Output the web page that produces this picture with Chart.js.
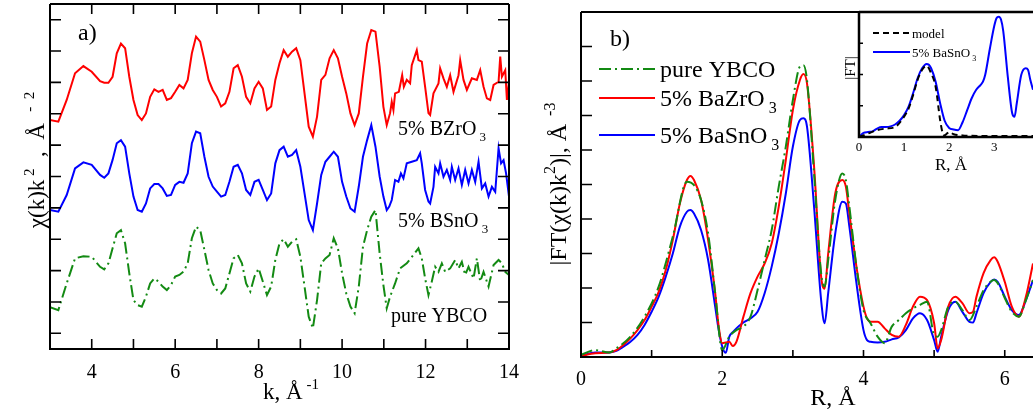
<!DOCTYPE html>
<html lang="en">
<head>
<meta charset="UTF-8">
<title>EXAFS chi(k) and FT</title>
<script src="https://cdn.jsdelivr.net/npm/chart.js"></script>
<style>
    body { margin: 0; background: #fff; }
    canvas { position: absolute; top: 0; }
    #chartA { left: 0; }
    #chartB { left: 520px; }
    #chartC { left: 830px; }
</style>
</head>
<body>
<canvas id="chartA" width="520" height="416"></canvas>
<canvas id="chartB" width="513" height="416"></canvas>
<canvas id="chartC" width="203" height="185"></canvas>
<script>
// ---- panel a: chi(k)k^2, curves shifted vertically (arbitrary units)
// common k grid up to 10.9, then each curve has its own noisy tail
const kA = [3.0, 3.2, 3.4, 3.6, 3.8, 4.0,
    4.2, 4.3, 4.4, 4.5, 4.6, 4.7, 4.8, 4.9, 5.0, 5.1, 5.2, 5.3, 5.4, 5.5, 5.6, 5.7, 5.8, 5.9,
    6.0, 6.1, 6.2, 6.3, 6.4, 6.5, 6.6, 6.7, 6.8, 6.9, 7.0, 7.1, 7.2, 7.3, 7.4, 7.5, 7.6, 7.7, 7.8, 7.9,
    8.0, 8.1, 8.2, 8.3, 8.4, 8.5, 8.6, 8.7, 8.8, 8.9, 9.0, 9.1, 9.2, 9.3, 9.4, 9.5, 9.6, 9.7, 9.8, 9.9,
    10.0, 10.1, 10.2, 10.3, 10.4, 10.5, 10.6, 10.7, 10.8, 10.9];
const bzrA = [7.30, 7.25, 7.94, 8.79, 9.02, 8.84,
    8.54, 8.49, 8.49, 8.68, 9.43, 9.74, 9.59, 8.68, 7.94, 7.46, 7.30, 7.51, 8.04, 8.28, 8.20, 8.26, 7.94, 8.00,
    8.20, 8.42, 8.31, 8.58, 9.43, 9.96, 9.80, 9.21, 8.58, 8.26, 8.04, 7.73, 7.83, 8.20, 8.95, 9.05, 8.68, 8.04, 7.83, 8.31,
    8.52, 8.31, 7.62, 7.73, 8.58, 9.11, 9.53, 9.32, 9.48, 9.59, 9.21, 8.15, 7.09, 6.77, 7.41, 8.58, 8.74, 9.27, 9.53, 9.27,
    8.68, 8.15, 7.51, 7.14, 7.51, 8.68, 9.74, 10.17, 10.12, 9.00];
const bsnA = [4.43, 4.38, 4.91, 5.76, 5.95, 5.87,
    5.55, 5.46, 5.60, 6.03, 6.56, 6.66, 6.45, 5.60, 4.86, 4.43, 4.38, 4.64, 5.12, 5.26, 5.26, 5.12, 4.88, 4.91,
    5.23, 5.33, 5.30, 5.60, 6.56, 6.93, 6.88, 6.13, 5.49, 5.18, 5.02, 4.86, 4.91, 5.33, 5.81, 5.87, 5.60, 5.07, 4.91, 5.33,
    5.39, 5.07, 4.75, 4.96, 5.92, 6.34, 6.45, 6.13, 6.19, 6.34, 5.81, 4.96, 4.11, 3.79, 4.64, 5.55, 5.97, 6.13, 6.29, 6.13,
    5.33, 4.86, 4.48, 4.38, 5.18, 6.13, 6.66, 7.14, 6.45, 5.50];
const ybcoA = [1.33, 1.24, 2.09, 2.89, 2.96, 2.94,
    2.62, 2.54, 2.73, 3.21, 3.69, 3.79, 3.37, 2.41, 1.56, 1.40, 1.35, 1.67, 2.09, 2.25, 2.15, 1.99, 1.88, 2.04,
    2.31, 2.36, 2.47, 2.73, 3.53, 3.90, 3.79, 3.16, 2.52, 2.09, 1.88, 1.77, 1.93, 2.41, 2.89, 3.00, 2.73, 2.09, 1.83, 2.31,
    2.57, 2.15, 1.72, 1.99, 2.84, 3.37, 3.50, 3.26, 3.42, 3.50, 2.94, 1.99, 1.03, 0.66, 1.56, 2.73, 2.89, 3.00, 3.53, 3.21,
    2.41, 1.77, 1.35, 1.14, 1.99, 3.26, 3.79, 4.22, 4.43, 3.05];

const kTailBzr = [10.99, 11.07, 11.15, 11.19, 11.23, 11.27, 11.36, 11.44, 11.48, 11.55, 11.63, 11.67, 11.79, 11.83,
    11.91, 11.99, 12.07, 12.11, 12.19, 12.31, 12.35, 12.43, 12.51, 12.59, 12.67, 12.79, 12.83, 12.91, 12.99, 13.11,
    13.23, 13.31, 13.39, 13.47, 13.55, 13.63, 13.75, 13.79, 13.83, 13.91, 13.95, 14.0];
const bzrTail = [7.72, 7.14, 7.52, 7.88, 7.62, 8.15, 8.20, 8.73, 8.36, 8.58, 8.47, 9.05, 9.53, 9.21,
    9.16, 8.36, 7.52, 7.46, 8.15, 8.47, 8.95, 8.63, 8.36, 8.73, 8.20, 8.73, 9.21, 8.58, 8.26, 8.63,
    8.58, 8.89, 8.36, 7.99, 7.94, 8.42, 8.52, 9.32, 8.68, 8.89, 7.94, 8.52];
const kTailBsn = [10.99, 11.07, 11.13, 11.19, 11.27, 11.35, 11.41, 11.47, 11.55, 11.67, 11.79, 11.87, 11.91, 11.99,
    12.07, 12.11, 12.19, 12.23, 12.31, 12.35, 12.43, 12.51, 12.59, 12.63, 12.71, 12.79, 12.87, 12.95, 13.03, 13.11,
    13.19, 13.27, 13.35, 13.43, 13.51, 13.59, 13.67, 13.75, 13.81, 13.87, 13.93, 14.0];
const bsnTail = [4.86, 4.43, 4.54, 4.75, 5.39, 5.33, 5.60, 5.44, 5.92, 5.97, 6.02, 6.24, 5.92, 5.07,
    4.70, 4.64, 5.17, 5.81, 5.60, 5.92, 5.49, 5.71, 5.39, 5.81, 5.39, 5.76, 5.23, 5.71, 5.28, 5.71,
    5.33, 5.97, 5.12, 5.28, 4.86, 5.17, 5.01, 6.40, 5.92, 6.02, 5.60, 4.86];
const kTailYbco = [10.99, 11.07, 11.15, 11.27, 11.39, 11.55, 11.71, 11.83, 11.91, 11.99, 12.07, 12.15, 12.23, 12.31,
    12.39, 12.47, 12.59, 12.71, 12.79, 12.87, 12.95, 13.03, 13.15, 13.23, 13.31, 13.39, 13.51, 13.63, 13.75, 13.83,
    13.91, 14.0];
const ybcoTail = [2.04, 1.30, 1.67, 2.09, 2.57, 2.73, 3.00, 3.21, 2.89, 2.25, 1.72, 2.15, 2.62, 2.46,
    2.73, 2.46, 2.57, 2.84, 2.57, 2.78, 2.36, 2.62, 2.25, 2.89, 2.15, 2.46, 1.99, 2.68, 2.84, 2.73,
    2.46, 2.36];
const xLabelsA = [4, 6, 8, 10, 12, 14];
const xTicksA = [4, 5, 6, 7, 8, 9, 10, 11, 12, 13];
const yTicksA = [0.5, 1.5, 2.5, 3.5, 4.5, 5.5, 6.5, 7.5, 8.5, 9.5, 10.5];

// ---- panel b: |FT|
const rB = [0, 0.2, 0.4, 0.5, 0.6, 0.7, 0.8, 0.9, 1.0, 1.1, 1.2, 1.3, 1.4, 1.5, 1.55, 1.6, 1.7, 1.8, 1.9, 1.95,
    2.0, 2.05, 2.1, 2.15, 2.2, 2.3, 2.4, 2.5, 2.6, 2.7, 2.8, 2.9, 3.0, 3.1, 3.15, 3.2, 3.3, 3.4, 3.45, 3.5,
    3.6, 3.7, 3.75, 3.8, 3.9, 4.0, 4.05, 4.1, 4.2, 4.3, 4.4, 4.5, 4.6, 4.7, 4.8, 4.9, 5.0, 5.05, 5.1, 5.2,
    5.3, 5.4, 5.5, 5.55, 5.6, 5.7, 5.8, 5.85, 5.9, 6.0, 6.1, 6.2, 6.3, 6.4];
const bzrB = [0.03, 0.11, 0.13, 0.20, 0.35, 0.54, 0.78, 1.07, 1.46, 1.89, 2.52, 3.39, 4.45, 5.13, 5.25, 5.13, 4.55, 3.39, 1.85, 0.88,
    0.40, 0.42, 0.44, 0.32, 0.44, 1.17, 1.85, 2.33, 2.71, 3.29, 4.36, 5.71, 7.16, 8.03, 8.20, 7.93, 5.52, 2.33, 1.98, 3.00,
    4.74, 5.13, 4.94, 4.16, 2.62, 1.46, 1.12, 1.02, 1.02, 0.83, 0.64, 0.59, 0.93, 1.46, 1.75, 1.65, 0.98, 0.25, 0.49, 1.46,
    1.75, 1.56, 1.27, 1.31, 1.75, 2.43, 2.81, 2.89, 2.76, 2.18, 1.46, 1.17, 1.75, 2.71];
const bsnB = [0.03, 0.13, 0.13, 0.18, 0.30, 0.44, 0.64, 0.93, 1.31, 1.75, 2.33, 3.00, 3.78, 4.21, 4.26, 4.16, 3.68, 2.81, 1.46, 0.78,
    0.30, 0.12, 0.59, 0.72, 0.83, 1.00, 1.12, 1.31, 1.85, 2.62, 3.58, 4.74, 6.10, 6.87, 6.92, 6.68, 4.36, 1.65, 0.98, 1.85,
    3.58, 4.50, 4.45, 3.78, 2.14, 0.78, 0.49, 0.44, 0.42, 0.44, 0.51, 0.57, 0.78, 1.12, 1.27, 1.07, 0.49, 0.15, 0.59, 1.36,
    1.60, 1.31, 1.02, 1.00, 1.27, 1.85, 2.18, 2.25, 2.18, 1.75, 1.36, 1.22, 1.65, 2.23];
const rBY = [0, 0.2, 0.4, 0.5, 0.7, 0.9, 1.1, 1.3, 1.5, 1.6, 1.7, 1.8, 1.9, 2.0, 2.1, 2.2, 2.3, 2.4, 2.5, 2.6,
    2.7, 2.8, 2.9, 3.0, 3.1, 3.15, 3.2, 3.3, 3.4, 3.45, 3.5, 3.6, 3.7, 3.75, 3.8, 3.9, 4.0, 4.1, 4.2, 4.3,
    4.4, 4.5, 4.6, 4.7, 4.8, 4.9, 5.0, 5.05, 5.1, 5.2, 5.3, 5.4, 5.5, 5.6, 5.7, 5.8, 5.85, 5.9, 6.0, 6.1,
    6.2, 6.3, 6.4];
const ybcoB = [0.06, 0.20, 0.13, 0.25, 0.59, 1.17, 2.04, 3.49, 5.08, 4.98, 4.55, 3.58, 1.85, 0.20, 0.59, 0.78, 0.88, 1.17, 1.94, 2.81,
    3.68, 4.94, 6.10, 7.45, 8.42, 8.46, 8.03, 5.32, 2.43, 2.04, 2.81, 4.55, 5.32, 5.13, 4.36, 2.62, 1.36, 0.98, 0.59, 0.40,
    0.88, 1.07, 1.27, 1.41, 1.51, 1.60, 0.64, 0.59, 0.78, 1.46, 1.60, 1.36, 1.07, 1.46, 1.94, 2.18, 2.23, 2.14, 1.71, 1.31,
    1.17, 1.65, 2.23];
const xLabelsB = [0, 2, 4, 6];
const xTicksB = [1, 2, 3, 4, 5, 6];
const yTicksB = [1, 2, 3, 4, 5, 6, 7, 8, 9];

// ---- inset: model vs 5% BaSnO3
const rIn = [0, 0.1, 0.2, 0.3, 0.4, 0.5, 0.6, 0.7, 0.8, 0.9, 1.0, 1.1, 1.2, 1.3, 1.4, 1.5, 1.55, 1.6, 1.7, 1.8,
    1.9, 2.0, 2.1, 2.2, 2.3, 2.4, 2.5, 2.6, 2.7, 2.75, 2.8, 2.9, 3.0, 3.05, 3.1, 3.15, 3.2, 3.3, 3.4, 3.45,
    3.5, 3.6, 3.7, 3.75, 3.8, 3.86];
const bsnIn = [0, 0.13, 0.16, 0.18, 0.27, 0.32, 0.32, 0.34, 0.40, 0.52, 0.70, 0.97, 1.40, 1.88, 2.20, 2.34, 2.31, 2.20, 1.77, 1.08,
    0.52, 0.29, 0.24, 0.22, 0.48, 0.86, 1.24, 1.51, 1.67, 1.77, 1.99, 2.80, 3.55, 3.80, 3.85, 3.76, 3.39, 1.94, 0.75, 0.65,
    1.08, 1.99, 2.20, 2.15, 1.83, 1.51];
const rModel = [0, 0.2, 0.4, 0.6, 0.8, 1.0, 1.1, 1.2, 1.3, 1.4, 1.5, 1.6, 1.7, 1.8, 1.85, 1.9, 1.95, 2.0, 2.1, 2.3, 2.5, 3.0, 3.86];
const modelIn = [0, 0.11, 0.22, 0.27, 0.32, 0.65, 0.91, 1.34, 1.83, 2.15, 2.28, 2.04, 1.61, 0.54, 0.16, 0.05, 0.11, 0.16, 0.09, 0.05, 0.04, 0.03, 0.03];
const xLabelsIn = [0, 1, 2, 3];
const yTicksIn = [1, 2, 3];

const SERIF = '"Liberation Serif", "DejaVu Serif", serif';
const RED = '#ff0000', BLUE = '#0000ff', GREEN = '#138a13';
const DASHDOT = [12, 4, 2, 4];

Chart.defaults.color = '#000';
Chart.defaults.font.family = SERIF;

function pts(xs, ys) {
    return ys.map((v, i) => ({ x: xs[i], y: v }));
}

// text with super/subscripts, optionally rotated
function rich(ctx, parts, x, y, size, align, angle) {
    const small = Math.round(size * 0.65);
    ctx.save();
    ctx.translate(x, y);
    if (angle) ctx.rotate(angle);
    ctx.fillStyle = '#000';
    ctx.textAlign = 'left';
    ctx.textBaseline = 'alphabetic';
    let w = 0;
    parts.forEach(([t, k]) => {
        ctx.font = (k === 'n' ? size : small) + 'px ' + SERIF;
        w += ctx.measureText(t).width;
    });
    let cx = align === 'center' ? -w / 2 : 0;
    parts.forEach(([t, k]) => {
        ctx.font = (k === 'n' ? size : small) + 'px ' + SERIF;
        const dy = k === 'sup' ? -size * 0.45 : (k === 'sub' ? size * 0.28 : 0);
        ctx.fillText(t, cx, dy);
        cx += ctx.measureText(t).width;
    });
    ctx.restore();
}

function legendLine(ctx, x1, x2, y, color, dash, width) {
    ctx.save();
    ctx.strokeStyle = color;
    ctx.lineWidth = width;
    ctx.setLineDash(dash);
    ctx.beginPath();
    ctx.moveTo(x1, y);
    ctx.lineTo(x2, y);
    ctx.stroke();
    ctx.restore();
}

// box + inward tick marks, placed by the chart's scales
function makeFrame(cfg) {
    return {
        id: 'frame',
        beforeDatasetsDraw(chart) {
            if (!cfg.fill) return;
            const a = chart.chartArea;
            chart.ctx.save();
            chart.ctx.fillStyle = '#fff';
            chart.ctx.fillRect(a.left, a.top, a.right - a.left, a.bottom - a.top);
            chart.ctx.restore();
        },
        afterDatasetsDraw(chart) {
            const { ctx, chartArea: a, scales } = chart;
            ctx.save();
            ctx.strokeStyle = '#000';
            ctx.lineWidth = cfg.tickWidth;
            ctx.beginPath();
            cfg.xTicks.forEach(v => {
                const px = scales.x.getPixelForValue(v);
                if (cfg.ticks.includes('bottom')) { ctx.moveTo(px, a.bottom); ctx.lineTo(px, a.bottom - cfg.xLen); }
                if (cfg.ticks.includes('top')) { ctx.moveTo(px, a.top); ctx.lineTo(px, a.top + cfg.xLen); }
            });
            cfg.yTicks.forEach(v => {
                const py = scales.y.getPixelForValue(v);
                if (cfg.ticks.includes('left')) { ctx.moveTo(a.left, py); ctx.lineTo(a.left + cfg.yLen, py); }
                if (cfg.ticks.includes('right')) { ctx.moveTo(a.right, py); ctx.lineTo(a.right - cfg.yLen, py); }
            });
            ctx.stroke();
            ctx.lineWidth = cfg.width;
            ctx.beginPath();
            if (cfg.sides.includes('left')) { ctx.moveTo(a.left, a.top); ctx.lineTo(a.left, a.bottom); }
            if (cfg.sides.includes('right')) { ctx.moveTo(a.right, a.top); ctx.lineTo(a.right, a.bottom); }
            if (cfg.sides.includes('top')) { ctx.moveTo(a.left, a.top); ctx.lineTo(a.right, a.top); }
            if (cfg.sides.includes('bottom')) { ctx.moveTo(a.left - cfg.width / 2, a.bottom); ctx.lineTo(a.right + cfg.width / 2, a.bottom); }
            ctx.stroke();
            ctx.restore();
        }
    };
}

function lineSet(label, xs, ys, color, dash, width) {
    return {
        label: label,
        data: pts(xs, ys),
        borderColor: color,
        borderWidth: width,
        borderDash: dash,
        pointRadius: 0,
        fill: false
    };
}

function baseOptions(pad, xMin, xMax, yMin, yMax, leftW, bottomH, labels, fontSize, labelPad) {
    return {
        responsive: false,
        animation: false,
        layout: { padding: pad },
        plugins: { legend: { display: false }, tooltip: { enabled: false } },
        scales: {
            x: {
                type: 'linear', min: xMin, max: xMax,
                afterFit: s => { s.height = bottomH; s.paddingLeft = 0; s.paddingRight = 0; },
                afterBuildTicks: s => { s.ticks = labels.map(v => ({ value: v })); },
                grid: { display: false, drawTicks: false },
                border: { display: false },
                ticks: { font: { family: SERIF, size: fontSize }, color: '#000', padding: labelPad, maxRotation: 0, autoSkip: false }
            },
            y: {
                type: 'linear', min: yMin, max: yMax,
                afterFit: s => { s.width = leftW; s.paddingTop = 0; s.paddingBottom = 0; },
                grid: { display: false, drawTicks: false },
                border: { display: false },
                ticks: { display: false }
            }
        }
    };
}

// ---------- panel a
const optA = baseOptions({ top: 4, right: 11, left: 0, bottom: 0 }, 3, 14, 0, 11, 50, 67, xLabelsA, 20, 12);
optA.elements = { line: { tension: 0 } };
new Chart(document.getElementById('chartA'), {
    type: 'line',
    data: {
        datasets: [
            lineSet('5% BZrO3', kA.concat(kTailBzr), bzrA.concat(bzrTail), RED, [], 2),
            lineSet('5% BSnO3', kA.concat(kTailBsn), bsnA.concat(bsnTail), BLUE, [], 2),
            lineSet('pure YBCO', kA.concat(kTailYbco), ybcoA.concat(ybcoTail), GREEN, DASHDOT, 2)
        ]
    },
    options: optA,
    plugins: [
        makeFrame({ sides: ['left', 'right', 'top', 'bottom'], ticks: ['left', 'right', 'top', 'bottom'],
            xTicks: xTicksA, yTicks: yTicksA, xLen: 10, yLen: 11, width: 2, tickWidth: 1.6 }),
        {
            id: 'textA',
            afterDraw(c) {
                const ctx = c.ctx;
                rich(ctx, [['a)', 'n']], 78, 40, 24, 'left');
                rich(ctx, [['5% BZrO', 'n'], [' 3', 'sub']], 398, 135, 20, 'left');
                rich(ctx, [['5% BSnO', 'n'], [' 3', 'sub']], 398, 227, 20, 'left');
                rich(ctx, [['pure YBCO', 'n']], 391, 322, 20, 'left');
                rich(ctx, [['k, Å', 'n'], [' -1', 'sup']], 291, 399, 23, 'center');
                rich(ctx, [['χ(k)k', 'n'], [' 2', 'sup'], ['  ,  Å', 'n'], ['   -  2', 'sup']], 44, 160, 23, 'center', -Math.PI / 2);
            }
        }
    ]
});

// ---------- panel b
const optB = baseOptions({ top: 12, right: 0, left: 0, bottom: 0 }, 0, 6.4, 0, 10, 61, 59, xLabelsB, 20, 11);
optB.elements = { line: { cubicInterpolationMode: 'monotone' } };
new Chart(document.getElementById('chartB'), {
    type: 'line',
    data: {
        datasets: [
            lineSet('pure YBCO', rBY, ybcoB, GREEN, DASHDOT, 2),
            lineSet('5% BaZrO3', rB, bzrB, RED, [], 2),
            lineSet('5% BaSnO3', rB, bsnB, BLUE, [], 2)
        ]
    },
    options: optB,
    plugins: [
        makeFrame({ sides: ['left', 'top', 'bottom'], ticks: ['left', 'bottom'],
            xTicks: xTicksB, yTicks: yTicksB, xLen: 7, yLen: 11, width: 2, tickWidth: 1.6 }),
        {
            id: 'textB',
            afterDraw(c) {
                const ctx = c.ctx;
                const o = 520;
                rich(ctx, [['b)', 'n']], 610 - o, 46, 24, 'left');
                legendLine(ctx, 599 - o, 655 - o, 69, GREEN, DASHDOT, 2);
                legendLine(ctx, 599 - o, 655 - o, 98, RED, [], 2);
                legendLine(ctx, 599 - o, 655 - o, 135, BLUE, [], 2);
                rich(ctx, [['pure YBCO', 'n']], 660 - o, 77, 24, 'left');
                rich(ctx, [['5% BaZrO', 'n'], [' 3', 'sub']], 660 - o, 106, 24, 'left');
                rich(ctx, [['5% BaSnO', 'n'], [' 3', 'sub']], 660 - o, 143, 24, 'left');
                rich(ctx, [['R, Å', 'n']], 833 - o, 405, 24, 'center');
                rich(ctx, [['|FT(χ(k)k', 'n'], ['2', 'sup'], [')|, Å', 'n'], ['  -3', 'sup']], 566 - o, 184, 24, 'center', -Math.PI / 2);
            }
        }
    ]
});

// ---------- inset
const optC = baseOptions({ top: 12, right: 0, left: 0, bottom: 0 }, 0, 3.86, 0, 4, 29, 48, xLabelsIn, 13, 3);
optC.elements = { line: { cubicInterpolationMode: 'monotone' } };
new Chart(document.getElementById('chartC'), {
    type: 'line',
    data: {
        datasets: [
            lineSet('model', rModel, modelIn, '#000', [6, 4], 2),
            lineSet('5% BaSnO3', rIn, bsnIn, BLUE, [], 2)
        ]
    },
    options: optC,
    plugins: [
        makeFrame({ fill: true, sides: ['left', 'top', 'bottom'], ticks: ['left'],
            xTicks: [], yTicks: yTicksIn, xLen: 4, yLen: 4, width: 2.5, tickWidth: 1.5 }),
        {
            id: 'textC',
            afterDraw(c) {
                const ctx = c.ctx;
                const o = 830;
                legendLine(ctx, 873 - o, 910 - o, 33, '#000', [6, 4], 2);
                legendLine(ctx, 873 - o, 910 - o, 52, BLUE, [], 2);
                rich(ctx, [['model', 'n']], 912 - o, 38, 13, 'left');
                rich(ctx, [['5% BaSnO', 'n'], [' 3', 'sub']], 912 - o, 57, 13, 'left');
                rich(ctx, [['R, Å', 'n']], 951 - o, 170, 17, 'center');
                rich(ctx, [['|FT|', 'n']], 855 - o, 68, 15, 'center', -Math.PI / 2);
            }
        }
    ]
});
</script>
</body>
</html>
